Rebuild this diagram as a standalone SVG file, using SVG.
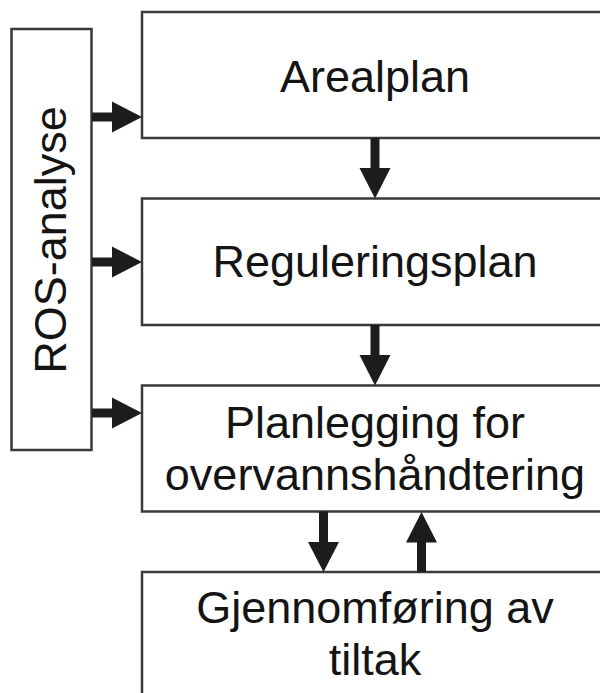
<svg xmlns="http://www.w3.org/2000/svg" width="600" height="693" viewBox="0 0 600 693">
  <style>
    .box { fill: #ffffff; stroke: #3a3a3a; stroke-width: 2.5; }
    .label { font-family: "Liberation Sans", Arial, sans-serif; font-size: 45px; fill: #141414; text-anchor: middle; }
    .shaft { stroke: #1c1c1c; stroke-width: 9; fill: none; }
    .head { fill: #1c1c1c; }
  </style>

  <!-- ROS-analyse side column -->
  <g id="ros-analyse">
    <rect class="box" x="11.5" y="29" width="80" height="421"/>
    <text class="label" transform="translate(66 240) rotate(-90)">ROS-analyse</text>
  </g>

  <!-- Planning stages -->
  <g id="arealplan">
    <rect class="box" x="142" y="12" width="470" height="126"/>
    <text class="label" x="375" y="92">Arealplan</text>
  </g>

  <g id="reguleringsplan">
    <rect class="box" x="142" y="198.5" width="470" height="126.5"/>
    <text class="label" x="375" y="277">Reguleringsplan</text>
  </g>

  <g id="planlegging-overvann">
    <rect class="box" x="142" y="385.5" width="470" height="126"/>
    <text class="label" x="375" y="438">Planlegging for</text>
    <text class="label" x="375" y="490">overvannshåndtering</text>
  </g>

  <g id="gjennomforing">
    <rect class="box" x="142" y="572" width="470" height="140"/>
    <text class="label" x="375" y="623">Gjennomføring av</text>
    <text class="label" x="375" y="675">tiltak</text>
  </g>

  <!-- Connectors -->
  <g id="connectors">
    <!-- ROS-analyse feeds each planning level -->
    <line class="shaft" x1="92" y1="117" x2="114" y2="117"/>
    <polygon class="head" points="112,101.5 142,117 112,132.5"/>
    <line class="shaft" x1="92" y1="262" x2="114" y2="262"/>
    <polygon class="head" points="112,246.5 142,262 112,277.5"/>
    <line class="shaft" x1="92" y1="413" x2="114" y2="413"/>
    <polygon class="head" points="112,397.5 142,413 112,428.5"/>

    <!-- Arealplan to Reguleringsplan -->
    <line class="shaft" x1="375" y1="138" x2="375" y2="170"/>
    <polygon class="head" points="359.5,168 390.5,168 375,198.5"/>

    <!-- Reguleringsplan to Planlegging -->
    <line class="shaft" x1="375" y1="325" x2="375" y2="357"/>
    <polygon class="head" points="359.5,355 390.5,355 375,385.5"/>

    <!-- Planlegging down to Gjennomføring -->
    <line class="shaft" x1="323.5" y1="511.5" x2="323.5" y2="544"/>
    <polygon class="head" points="308,542 339,542 323.5,572"/>

    <!-- Gjennomføring back up to Planlegging -->
    <line class="shaft" x1="421.5" y1="572" x2="421.5" y2="540"/>
    <polygon class="head" points="406,542.5 437,542.5 421.5,512"/>
  </g>
</svg>
